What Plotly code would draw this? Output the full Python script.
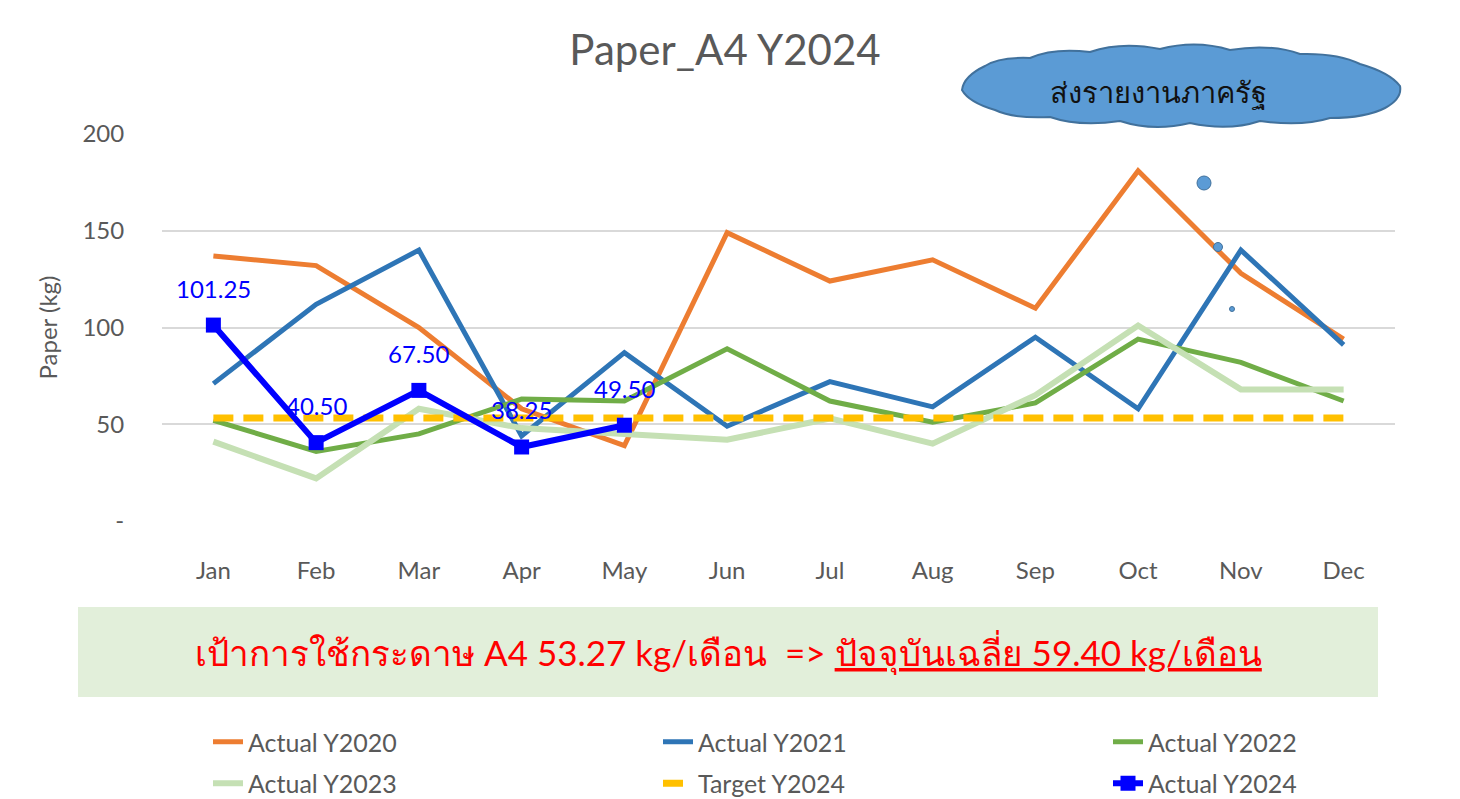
import plotly.graph_objects as go

months = ["Jan", "Feb", "Mar", "Apr", "May", "Jun", "Jul", "Aug", "Sep", "Oct", "Nov", "Dec"]
actual_2020 = [137, 132, 100, 58, 39, 149, 124, 135, 110, 181, 128, 94]
actual_2021 = [71, 112, 140, 44, 87, 49, 72, 59, 95, 58, 140, 91]
actual_2022 = [52, 36, 45, 63, 62, 89, 62, 51, 61, 94, 82, 62]
actual_2023 = [41, 22, 58, 48, 45, 42, 53, 40, 65, 101, 68, 68]
target_2024 = [53.27] * 12
actual_2024 = [101.25, 40.50, 67.50, 38.25, 49.50]
label_2024 = ["101.25", "40.50", "67.50", "38.25", "49.50"]

y_ticks = [0, 50, 100, 150, 200]
y_tick_text = ["-", "50", "100", "150", "200"]

FONT = "Lato, 'Noto Sans', 'DejaVu Sans', sans-serif"
GRAY = "#595959"

# page offset (browser body margin) and screen-pixel plot area
OFF = 8
W, H = 1460 - OFF, 799 - OFF
L, R, T, B = 162, 1395, 134, 521
def px(x):
    return (x - L) / (R - L)
def py(y):
    return (B - y) / (B - T)

fig = go.Figure()
fig.add_trace(go.Scatter(x=months, y=actual_2020, name="Actual Y2020", mode="lines",
                         line=dict(color="#ed7d31", width=5), legend="legend"))
fig.add_trace(go.Scatter(x=months, y=actual_2021, name="Actual Y2021", mode="lines",
                         line=dict(color="#2e75b6", width=5), legend="legend2"))
fig.add_trace(go.Scatter(x=months, y=actual_2022, name="Actual Y2022", mode="lines",
                         line=dict(color="#70ad47", width=5), legend="legend3"))
fig.add_trace(go.Scatter(x=months, y=actual_2023, name="Actual Y2023", mode="lines",
                         line=dict(color="#c5e0b4", width=6), legend="legend"))
fig.add_trace(go.Scatter(x=months, y=target_2024, name="Target Y2024", mode="lines",
                         line=dict(color="#ffc000", width=7, dash="20px,10px"), legend="legend2"))
fig.add_trace(go.Scatter(x=months[:len(actual_2024)], y=actual_2024, name="Actual Y2024",
                         mode="lines+markers", legend="legend3",
                         line=dict(color="#0000ff", width=6),
                         marker=dict(symbol="square", size=15, color="#0000ff")))

for m, v, t in zip(months, actual_2024, label_2024):
    fig.add_annotation(x=m, y=v, text=t, showarrow=False, yshift=37,
                       font=dict(family=FONT, size=24, color="#0000ff"))

# Cloud callout
pts = [(962, 90), (985, 66), (1030, 58), (1090, 52), (1160, 49), (1230, 50),
       (1300, 54), (1360, 64), (1400, 86), (1385, 108), (1330, 118), (1260, 121),
       (1190, 123), (1120, 121), (1050, 117), (995, 110)]
cx, cy = 1180, 88
path = f"M {px(pts[0][0]):.5f},{py(pts[0][1]):.5f}"
n = len(pts)
for i in range(n):
    x0, y0 = pts[i]
    x1, y1 = pts[(i + 1) % n]
    mx, my = (x0 + x1) / 2, (y0 + y1) / 2
    dx, dy = mx - cx, (my - cy) * 4
    d = (dx * dx + dy * dy) ** 0.5
    qx, qy = mx + dx / d * 10, my + dy / d * 10
    path += f" Q {px(qx):.5f},{py(qy):.5f} {px(x1):.5f},{py(y1):.5f}"
path += " Z"
fig.add_shape(type="path", xref="paper", yref="paper", path=path,
              fillcolor="#5b9bd5", line=dict(color="#41719c", width=2), layer="above")
for (bx, by, r) in [(1204, 183, 7), (1218, 247, 4.5), (1232, 309, 2.5)]:
    fig.add_shape(type="circle", xref="paper", yref="paper",
                  x0=px(bx - r), x1=px(bx + r), y0=py(by + r), y1=py(by - r),
                  fillcolor="#5b9bd5", line=dict(color="#41719c", width=1), layer="above")
fig.add_annotation(xref="paper", yref="paper", x=px(1158), y=py(92), xanchor="center",
                   yanchor="middle", text="ส่งรายงานภาครัฐ",
                   showarrow=False, font=dict(family=FONT, size=29, color="#111111"))

# Green info box
fig.add_shape(type="rect", xref="paper", yref="paper",
              x0=px(78), x1=px(1378), y0=py(697), y1=py(607),
              fillcolor="#e2efda", line=dict(width=0), layer="below")
fig.add_annotation(xref="paper", yref="paper", x=px(728), y=py(652), xanchor="center",
                   yanchor="middle",
                   text="เป้าการใช้กระดาษ A4 53.27 kg/เดือน  => <u>ปัจจุบันเฉลี่ย 59.40 kg/เดือน</u>",
                   showarrow=False, font=dict(family=FONT, size=35, color="#ff0000"))

leg_common = dict(orientation="v", yanchor="top", xanchor="left",
                  yref="container", y=1 - (719 - OFF) / H,
                  tracegroupgap=6, bgcolor="rgba(0,0,0,0)",
                  font=dict(family=FONT, size=25, color=GRAY))

fig.update_layout(
    width=W, height=H,
    margin=dict(l=L - OFF, r=1460 - R, t=T - OFF, b=799 - B),
    paper_bgcolor="white", plot_bgcolor="white",
    font=dict(family=FONT, color=GRAY),
    title=dict(text="Paper_A4 Y2024", xref="container", x=(725 - OFF) / W, xanchor="center",
               yref="container", y=1 - (50 - OFF) / H, yanchor="middle",
               font=dict(family=FONT, size=42, color=GRAY)),
    showlegend=True,
    legend=dict(x=px(208), **leg_common),
    legend2=dict(x=px(658), **leg_common),
    legend3=dict(x=px(1108), **leg_common),
)
for i, tr in enumerate(fig.data):
    tr.legendgroup = f"g{i}"

fig.update_xaxes(type="category", range=[-0.5, 11.5], showgrid=False, zeroline=False,
                 showline=False, ticks="outside", ticklen=28, tickcolor="rgba(0,0,0,0)",
                 tickfont=dict(family=FONT, size=24, color=GRAY))
fig.update_yaxes(range=[0, 200], tickvals=y_ticks, ticktext=y_tick_text,
                 showgrid=True, gridcolor="#d9d9d9", gridwidth=2, zeroline=False,
                 showline=False, ticks="outside", ticklen=32, tickcolor="rgba(0,0,0,0)",
                 tickfont=dict(family=FONT, size=24, color=GRAY),
                 title=dict(text="Paper (kg)", standoff=18, font=dict(family=FONT, size=24, color=GRAY)))

fig.write_html("out.html")
